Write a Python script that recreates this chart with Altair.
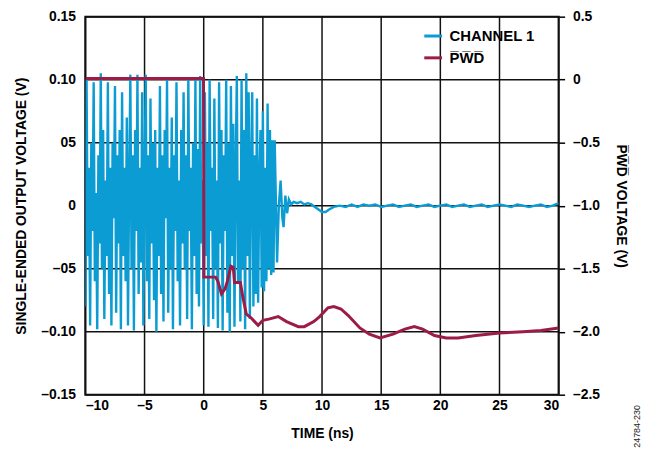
import altair as alt
import pandas as pd

# ---------------- data ----------------
# CHANNEL 1 burst (before the output settles)
burst_t = [-10.0, -9.9, -9.8, -9.7, -9.6, -9.5, -9.4, -9.3, -9.2, -9.1,
           -9.0, -8.9, -8.8, -8.7, -8.6, -8.5, -8.4, -8.3, -8.2, -8.1,
           -8.0, -7.9, -7.8, -7.7, -7.6, -7.5, -7.4, -7.3, -7.2, -7.1,
           -7.0, -6.9, -6.8, -6.7, -6.6, -6.5, -6.4, -6.3, -6.2, -6.1,
           -6.0, -5.9, -5.8, -5.7, -5.6, -5.5, -5.4, -5.3, -5.2, -5.1,
           -5.0, -4.9, -4.8, -4.7, -4.6, -4.5, -4.4, -4.3, -4.2, -4.1,
           -4.0, -3.9, -3.8, -3.7, -3.6, -3.5, -3.4, -3.3, -3.2, -3.1,
           -3.0, -2.9, -2.8, -2.7, -2.6, -2.5, -2.4, -2.3, -2.2, -2.1,
           -2.0, -1.9, -1.8, -1.7, -1.6, -1.5, -1.4, -1.3, -1.2, -1.1,
           -1.0, -0.9, -0.8, -0.7, -0.6, -0.5, -0.4, -0.3, -0.2, -0.1,
           0.0, 0.1, 0.2, 0.3, 0.4, 0.5, 0.6, 0.7, 0.8, 0.9,
           1.0, 1.1, 1.2, 1.3, 1.4, 1.5, 1.6, 1.7, 1.8, 1.9,
           2.0, 2.1, 2.2, 2.3, 2.4, 2.5, 2.6, 2.7, 2.8, 2.9,
           3.0, 3.1, 3.2, 3.3, 3.4, 3.5, 3.6, 3.7, 3.8, 3.9,
           4.0, 4.1, 4.2, 4.3, 4.4, 4.5, 4.6, 4.7, 4.8, 4.9,
           5.0, 5.1, 5.2, 5.3, 5.4, 5.5, 5.6, 5.7, 5.8, 5.9,
           6.0, 6.2, 6.35, 6.5, 6.65, 6.75, 6.9, 7.05, 7.2]
burst_v = [-0.080, 0.100, -0.040, 0.030, -0.095, 0.050, -0.020, 0.098, -0.060, 0.010,
           -0.098, 0.040, -0.030, 0.105, -0.050, 0.060, -0.090, 0.020, -0.040, 0.098,
           -0.070, 0.030, -0.095, 0.050, -0.010, 0.095, -0.085, 0.040, -0.030, 0.060,
           -0.098, 0.090, -0.040, 0.030, -0.060, 0.070, -0.095, 0.020, 0.104, -0.050,
           0.040, -0.099, 0.060, -0.020, 0.104, -0.070, 0.030, -0.045, 0.090, -0.095,
           0.020, 0.104, -0.060, 0.040, -0.090, 0.085, -0.030, 0.050, -0.075, 0.060,
           -0.100, 0.030, -0.040, 0.095, -0.070, 0.040, -0.092, 0.060, -0.010, 0.100,
           -0.085, 0.030, -0.050, 0.070, -0.098, 0.040, -0.020, 0.098, -0.060, 0.020,
           -0.095, 0.060, -0.030, 0.090, -0.050, 0.040, -0.090, 0.102, -0.020, 0.030,
           -0.098, 0.050, -0.040, 0.100, -0.070, 0.045, -0.080, 0.103, -0.030, 0.020,
           -0.095, 0.090, -0.040, 0.050, -0.096, 0.100, -0.020, 0.030, -0.090, 0.085,
           -0.050, 0.020, -0.097, 0.098, -0.030, 0.060, -0.099, 0.040, -0.020, 0.100,
           -0.085, 0.050, -0.100, 0.095, -0.040, 0.065, -0.096, 0.030, 0.103, -0.060,
           0.020, -0.092, 0.100, -0.050, 0.060, -0.098, 0.105, -0.040, 0.090, -0.090,
           0.030, 0.090, -0.080, 0.040, -0.070, 0.085, -0.077, 0.020, 0.060, -0.065,
           0.075, -0.068, 0.030, -0.060, 0.081, -0.050, 0.060, -0.055, 0.052, -0.053,
           0.052, -0.045, 0.000, 0.020, -0.010, -0.017, 0.008, -0.006, 0.005]
# CHANNEL 1 settled part
tail_t = [7.4, 7.6, 7.9, 8.2, 8.5, 8.8, 9.1, 9.4, 9.7, 10.0,
          10.3, 10.6, 11.0, 11.5, 12.0, 12.5, 13.0, 13.5, 14.0, 14.5,
          15.0, 15.5, 16.0, 16.5, 17.0, 17.5, 18.0, 18.5, 19.0, 19.5,
          20.0, 20.5, 21.0, 21.5, 22.0, 22.5, 23.0, 23.5, 24.0, 24.5,
          25.0, 25.5, 26.0, 26.5, 27.0, 27.5, 28.0, 28.5, 29.0, 29.5, 30.0]
tail_v = [0.001, 0.003, 0.002, 0.003, 0.001, 0.002, 0.001, -0.001, -0.003, -0.005,
          -0.005, -0.003, -0.001, 0.000, -0.001, 0.001, -0.001, 0.001, 0.000, 0.001,
          -0.001, 0.000, 0.001, -0.001, 0.000, 0.001, -0.001, 0.000, 0.001, -0.001,
          0.000, 0.001, -0.001, 0.000, 0.001, -0.001, 0.000, 0.001, -0.001, 0.000,
          0.001, 0.000, -0.001, 0.001, 0.000, -0.001, 0.000, 0.001, -0.001, 0.000, 0.002]

pwd_t = [-10.0, -0.02, 0.02, 1.0, 1.2, 1.5, 1.8, 2.0, 2.3, 2.5, 2.6, 3.1, 3.3, 3.6, 4.0,
         4.3, 4.6, 5.0, 5.5, 6.3, 7.0, 8.0, 8.5, 9.3, 9.8, 10.5, 11.0, 11.6, 12.2, 13.2,
         14.0, 14.9, 16.0, 17.0, 17.8, 18.5, 19.5, 20.5, 21.5, 23.0, 25.0, 27.0, 28.5, 30.0]
pwd_v = [0.01, 0.01, -1.567, -1.567, -1.60, -1.70, -1.66, -1.60, -1.48, -1.49, -1.61, -1.61,
         -1.72, -1.86, -1.89, -1.92, -1.95, -1.91, -1.90, -1.88, -1.92, -1.96, -1.96, -1.92,
         -1.88, -1.81, -1.80, -1.82, -1.87, -1.97, -2.02, -2.05, -2.02, -1.98, -1.96, -1.98,
         -2.03, -2.05, -2.05, -2.03, -2.01, -2.00, -1.99, -1.97]

series_names = ["CHANNEL 1", "P\u0305W\u0305D\u0305"]
series_colors = ["#0A9CD2", "#9C1C47"]

x_ticks = [-10, -5, 0, 5, 10, 15, 20, 25, 30]
x_labels = ["\u201310", "\u20135", "0", "5", "10", "15", "20", "25", "30"]
yl_ticks = [-0.15, -0.10, -0.05, 0.0, 0.05, 0.10, 0.15]
yl_labels = ["\u20130.15", "\u20130.10", "\u201305", "0", "05", "0.10", "0.15"]
yr_ticks = [-2.5, -2.0, -1.5, -1.0, -0.5, 0.0, 0.5]
yr_labels = ["\u20132.5", "\u20132.0", "\u20131.5", "\u20131.0", "\u20130.5", "0", "0.5"]


def label_expr(ticks, labels):
    parts = [f"abs(datum.value - ({t})) < 1e-6 ? '{l}'" for t, l in zip(ticks, labels)]
    return " : ".join(parts) + " : ''"


W, H = 477, 381
FONT = "Liberation Sans"
AX = dict(labelFont=FONT, labelFontSize=14, labelFontWeight="bold", labelColor="black",
          titleFont=FONT, titleFontSize=14, titleFontWeight="bold", titleColor="black",
          grid=False, domain=False)
GRID = "#111111"

n_b = min(len(burst_t), len(burst_v))
n_t = min(len(tail_t), len(tail_v))
ch1 = pd.DataFrame({"t": burst_t[:n_b] + tail_t[:n_t], "v": burst_v[:n_b] + tail_v[:n_t],
                    "s": series_names[0]})
pwd = pd.DataFrame({"t": pwd_t, "v": pwd_v, "s": series_names[1]})

color = alt.Color("s:N", scale=alt.Scale(domain=series_names, range=series_colors),
                  legend=alt.Legend(title=None, orient="none", legendX=340, legendY=9,
                                    symbolType="stroke", symbolStrokeWidth=3, symbolSize=320,
                                    labelFont=FONT, labelFontSize=15, labelFontWeight="bold",
                                    labelColor="black", labelOffset=6, rowPadding=3))

xenc = alt.X("t:Q", scale=alt.Scale(domain=[-10, 30], nice=False, zero=False),
             axis=alt.Axis(values=x_ticks, labelExpr=label_expr(x_ticks, x_labels),
                           title="TIME (ns)", ticks=False, labelPadding=4,
                           titlePadding=14, **AX))
yleft = alt.Y("v:Q", scale=alt.Scale(domain=[-0.15, 0.15], nice=False, zero=False),
              axis=alt.Axis(values=yl_ticks, labelExpr=label_expr(yl_ticks, yl_labels),
                            title="SINGLE-ENDED OUTPUT VOLTAGE (V)", orient="left",
                            ticks=False, labelPadding=10, titlePadding=12, **AX))

vgrid = alt.Chart(pd.DataFrame({"t": x_ticks})).mark_rule(
    color=GRID, strokeWidth=1.5, opacity=1).encode(x=xenc)
hgrid = alt.Chart(pd.DataFrame({"v": yl_ticks})).mark_rule(
    color=GRID, strokeWidth=1.5, opacity=1).encode(y=yleft)

line1 = alt.Chart(ch1).mark_line(strokeWidth=2.4, clip=True).encode(
    x=xenc, y=yleft, color=color, order="t:Q")

left = alt.layer(vgrid, hgrid, line1)

line2 = alt.Chart(pwd).mark_line(strokeWidth=3, clip=True).encode(
    x=xenc,
    y=alt.Y("v:Q", scale=alt.Scale(domain=[-2.5, 0.5], nice=False, zero=False),
            axis=alt.Axis(values=yr_ticks, labelExpr=label_expr(yr_ticks, yr_labels),
                          title="P\u0305W\u0305D\u0305 VOLTAGE (V)", orient="right",
                          ticks=True, tickSize=6, tickColor="black", tickWidth=1.5,
                          labelPadding=8, titlePadding=14, **AX)),
    color=color,
    order="t:Q",
)

note = alt.Chart(pd.DataFrame({"txt": ["24784-230"]})).mark_text(
    angle=270, fontSize=9, font=FONT, color="#222", align="center", baseline="middle"
).encode(x=alt.value(W + 79), y=alt.value(H + 32), text="txt:N")

chart = alt.layer(left, line2, note).resolve_scale(y="independent").properties(
    width=W, height=H, padding={"left": 6, "top": 0, "right": 0, "bottom": 0},
    background="white"
).configure_view(stroke="black", strokeWidth=2)

chart.save("out.html", embed_options={"renderer": "svg", "actions": False})
